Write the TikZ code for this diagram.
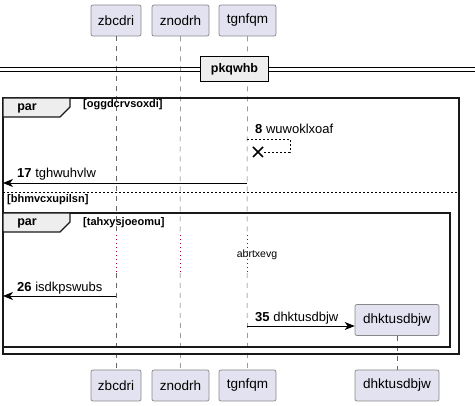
\documentclass[tikz,border=0pt]{standalone}
\usepackage{fontspec}
\setmainfont{Liberation Sans}
\usetikzlibrary{arrows.meta}
\definecolor{partfill}{HTML}{E2E2F0}
\definecolor{partline}{HTML}{888888}
\definecolor{tabfill}{HTML}{EEEEEE}
\definecolor{delayred}{HTML}{A80036}
\tikzset{
  part/.style={draw=partline, fill=partfill, rounded corners=2pt, line width=0.7pt,
    minimum height=31pt, inner xsep=6pt, font=\fontsize{13.5}{15}\selectfont},
  life/.style={draw=gray!80!black, dash pattern=on 5pt off 5pt, line width=0.5pt},
  msg/.style={line width=0.8pt, -{Stealth[length=10pt,width=8pt,inset=3pt]}},
  msgtext/.style={anchor=base west, font=\fontsize{13}{15}\selectfont, inner sep=0pt},
  grouplabel/.style={anchor=west, font=\bfseries\fontsize{11}{13}\selectfont, inner sep=0pt},
  frame/.style={line width=1.3pt, draw=black!90}
}
\begin{document}
\begin{tikzpicture}[x=1pt, y=-1pt]
    \useasboundingbox (0,0) rectangle (475,406);

    % participants
    \node[part, minimum width=50pt] (zb) at (116, 20.5) {zbcdri};
    \node[part, minimum width=57pt] (zn) at (180.5, 20.5) {znodrh};
    \node[part, minimum width=57pt] (tg) at (247.5, 20.5) {tgnfqm};
    \node[part, minimum width=50pt] (zbb) at (116, 385.5) {zbcdri};
    \node[part, minimum width=57pt] (znb) at (180.5, 385.5) {znodrh};
    \node[part, minimum width=57pt] (tgb) at (247.5, 385.5) {tgnfqm};
    \node[part, minimum width=84pt] (dk) at (397, 320) {dhktusdbjw};
    \node[part, minimum width=84pt] (dkb) at (397, 385.5) {dhktusdbjw};

    % lifelines
    \draw[life] (zb.south) -- (116, 235);
    \draw[life] (116, 273) -- (zbb.north);
    \draw[life] (zn.south) -- (180, 235);
    \draw[life] (180, 273) -- (znb.north);
    \draw[life] (tg.south) -- (247, 235);
    \draw[life] (247, 273) -- (tgb.north);
    \draw[life] (dk.south) -- (dkb.north);
    \foreach \x in {116, 180, 247} {
      \draw[delayred, line width=0.6pt, dash pattern=on 1pt off 3pt] (\x, 235) -- (\x, 273);
    }

    % divider
    \draw[line width=0.8pt] (0, 67) -- (475, 67);
    \draw[line width=0.8pt] (0, 71) -- (475, 71);
    \node[draw, line width=1.4pt, fill=tabfill, minimum width=68pt, minimum height=25pt,
      font=\bfseries\fontsize{12.5}{14}\selectfont] (div) at (234.5, 69) {pkqwhb};

    % outer par
    \draw[frame] (3, 98) rectangle (459, 354);
    \draw[frame, fill=tabfill] (3, 98) -- (70, 98) -- (70, 107) -- (60, 117) -- (3, 117) -- cycle;
    \node[font=\bfseries\fontsize{12.5}{14}\selectfont] (par1) at (27, 108) {par};
    \node[grouplabel] (g1) at (83, 105) {[oggdcrvsoxdi]};

    % self message 8
    \coordinate (s8a) at (247, 139);
    \coordinate (s8b) at (290, 139);
    \coordinate (s8c) at (290, 152);
    \coordinate (s8d) at (263, 152);
    \draw[line width=0.7pt, dash pattern=on 2pt off 2pt] (s8a) -- (s8b) -- (s8c) -- (s8d);
    \draw[line width=1.5pt] (253, 147) -- (263, 157) (253, 157) -- (263, 147);
    \node[msgtext] (m8) at (255, 134) {\textbf{8} wuwoklxoaf};

    % message 17
    \coordinate (l17) at (3, 183);
    \draw[msg] (247, 183) -- (l17);
    \node[msgtext] (m17) at (17, 178) {\textbf{17} tghwuhvlw};

    % else
    \draw[line width=0.7pt, dash pattern=on 2pt off 2pt] (3, 192) -- (459, 192);
    \node[grouplabel] (g2) at (7, 199.5) {[bhmvcxupilsn]};

    % inner par
    \draw[frame] (3, 213) rectangle (450, 347);
    \draw[frame, fill=tabfill] (3, 213) -- (70, 213) -- (70, 222) -- (60, 232) -- (3, 232) -- cycle;
    \node[font=\bfseries\fontsize{12.5}{14}\selectfont] (par2) at (27, 223) {par};
    \node[grouplabel] (g3) at (83, 223) {[tahxysjoeomu]};

    % delay
    \node[font=\fontsize{10.5}{12}\selectfont, inner sep=0pt] (dl) at (257, 254.5) {abrtxevg};

    % message 26
    \coordinate (l26) at (3, 296);
    \draw[msg] (116, 296) -- (l26);
    \node[msgtext] (m26) at (17, 292) {\textbf{26} isdkpswubs};

    % message 35
    \draw[msg] (247, 326) -- (dk.west |- 0, 326);
    \node[msgtext] (m35) at (255, 322) {\textbf{35} dhktusdbjw};
\end{tikzpicture}
\end{document}
